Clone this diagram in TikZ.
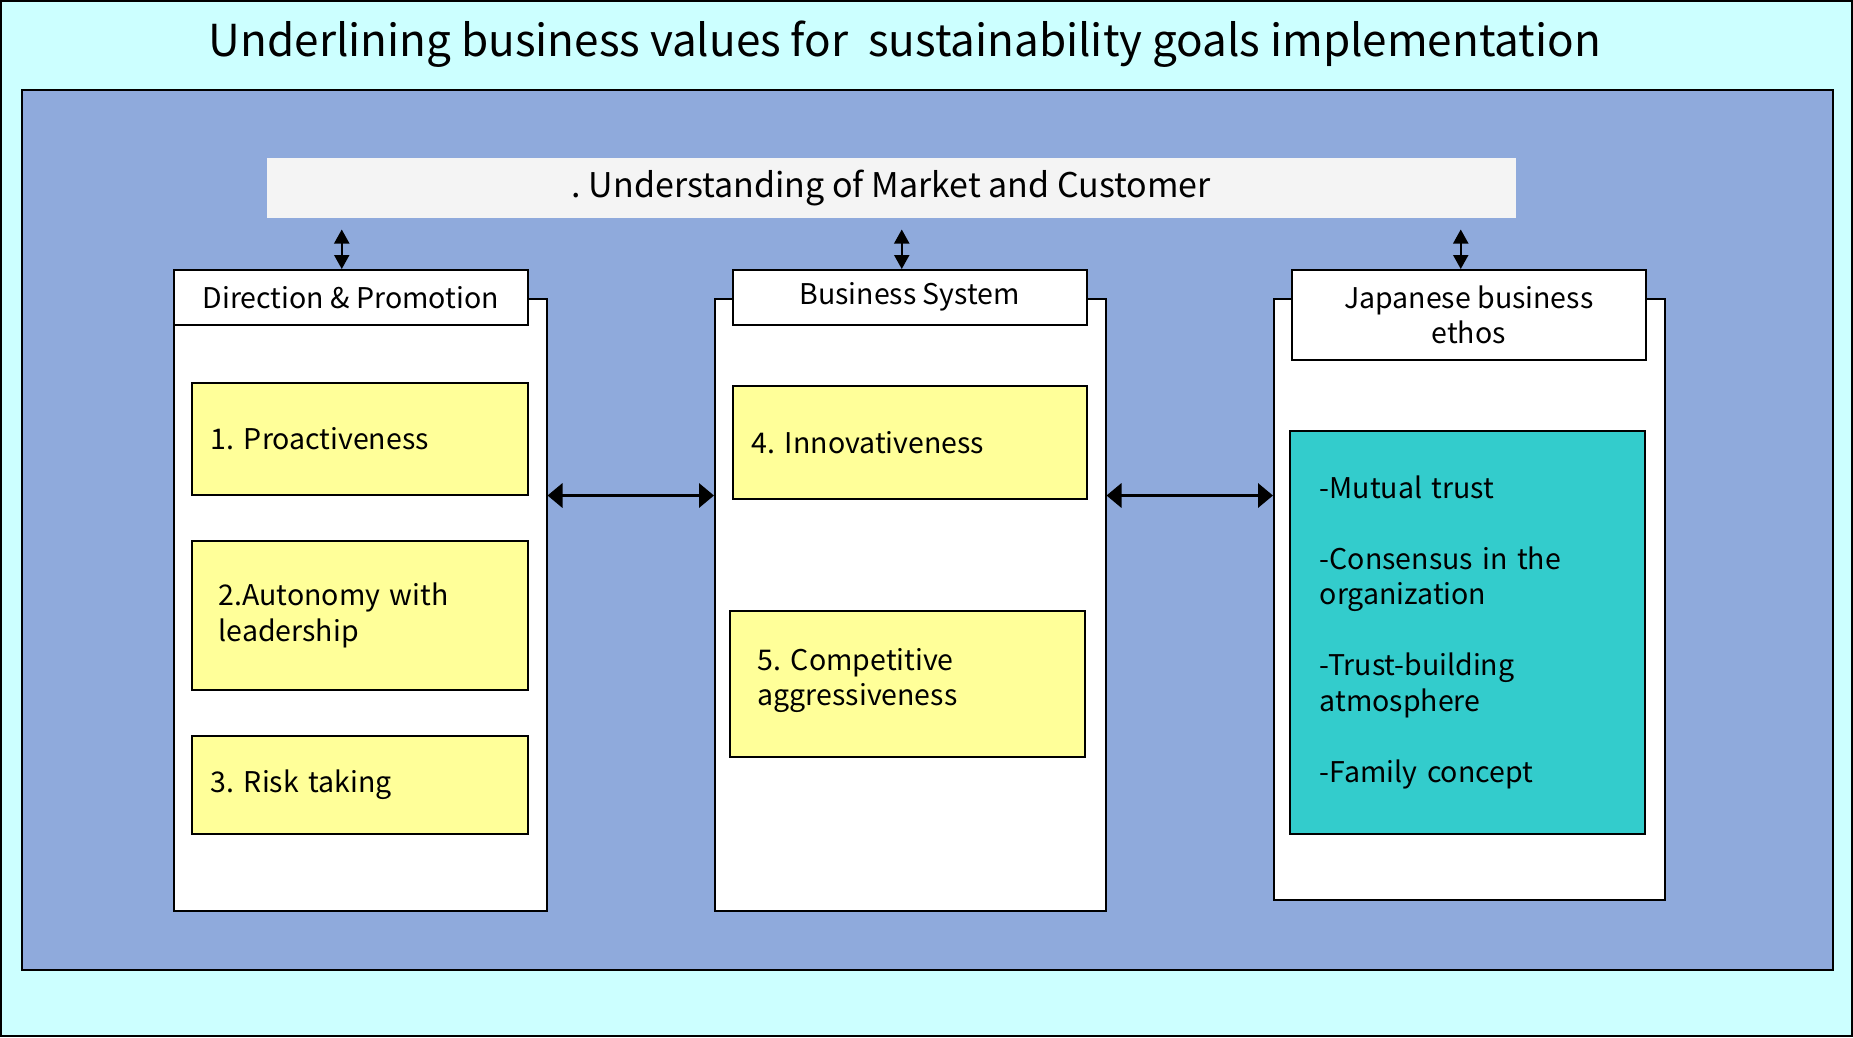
\documentclass[tikz,border=0pt]{standalone}
\usepackage{fontspec}
\setmainfont{Noto Sans CJK JP}
\usetikzlibrary{arrows.meta,calc}

\definecolor{skyback}{HTML}{CCFFFF}
\definecolor{panelblue}{HTML}{8FAADC}
\definecolor{marketgray}{HTML}{F4F4F4}
\definecolor{traityellow}{HTML}{FFFF99}
\definecolor{ethosteal}{HTML}{33CCCC}

\tikzset{
  box/.style={draw=black, line width=1.5pt, fill=white, anchor=north west, inner sep=0pt},
  head/.style={box, align=center, font=\fontsize{28.5}{35.5}\selectfont},
  trait/.style={box, fill=traityellow, align=left, font=\fontsize{28.5}{35.5}\selectfont},
  updown/.style={line width=2pt, {Triangle[width=15pt,length=14pt]}-{Triangle[width=15pt,length=14pt]}},
  across/.style={line width=3.5pt, {Triangle[width=24pt,length=15pt]}-{Triangle[width=24pt,length=15pt]}}
}

\begin{document}
\frenchspacing
\begin{tikzpicture}[x=1pt,y=-1pt]
        \useasboundingbox (0,0) rectangle (1853,1037);
        % frame and title
        \draw[fill=skyback, line width=2pt] (1,1) rectangle (1852,1036);
        \node[font=\fontsize{44}{50}\selectfont] (title) at (905,44)
            {Underlining business values for\ \ sustainability goals implementation};
        \draw[fill=panelblue, line width=2pt] (22,90) rectangle (1833,970);
        % market
        \node[box, draw=none, fill=marketgray, minimum width=1249pt, minimum height=60pt,
            font=\fontsize{34}{40}\selectfont] (mkt) at (266,157)
            {. Understanding of Market and Customer};
        % left column
        \node[box, minimum width=373pt, minimum height=612pt] (dpbody) at (173,298) {};
        \node[head, minimum width=354pt, minimum height=55pt] (dp) at (173,269)
            {Direction \& Promotion};
        \node[trait, text width=298pt, inner xsep=19pt, minimum height=112pt] (pro) at (191,382)
            {1. Proactiveness};
        \node[trait, text width=282pt, inner xsep=27pt, minimum height=149pt] (aut) at (191,540)
            {2.Autonomy with\\leadership};
        \node[trait, text width=298pt, inner xsep=19pt, minimum height=98pt] (risk) at (191,735)
            {3. Risk taking};
        % middle column
        \node[box, minimum width=391pt, minimum height=612pt] (bsbody) at (714,298) {};
        \node[head, minimum width=354pt, minimum height=55pt] (bs) at (732,269)
            {Business System};
        \node[trait, text width=316pt, inner xsep=19pt, minimum height=113pt] (inn) at (732,385)
            {4. Innovativeness};
        \node[trait, text width=299pt, inner xsep=28pt, minimum height=146pt] (comp) at (729,610)
            {5. Competitive\\aggressiveness\\[-21.5pt]\mbox{}};
        % right column
        \node[box, minimum width=391pt, minimum height=601pt] (jebody) at (1273,298) {};
        \node[head, minimum width=354pt, minimum height=90pt] (je) at (1291,269)
            {Japanese business\\ethos};
        \node[trait, fill=ethosteal, text width=295pt, inner xsep=30pt, minimum height=403pt] (val) at (1289,430)
            {-Mutual trust\\[35.5pt]-Consensus in the\\organization\\[35.5pt]-Trust-building\\atmosphere\\[35.5pt]-Family concept};
        % links
        \draw[updown] ($(dp.north)+(-9,0)$) -- ($(dp.north |- mkt.south)+(-9,11)$);
        \draw[updown] ($(bs.north)+(-8,0)$) -- ($(bs.north |- mkt.south)+(-8,11)$);
        \draw[updown] ($(je.north)+(-8,0)$) -- ($(je.north |- mkt.south)+(-8,11)$);
        \draw[across] (dpbody.east |- pro.south) -- (bsbody.west |- pro.south);
        \draw[across] (bsbody.east |- pro.south) -- (jebody.west |- pro.south);
    \end{tikzpicture}
\end{document}
